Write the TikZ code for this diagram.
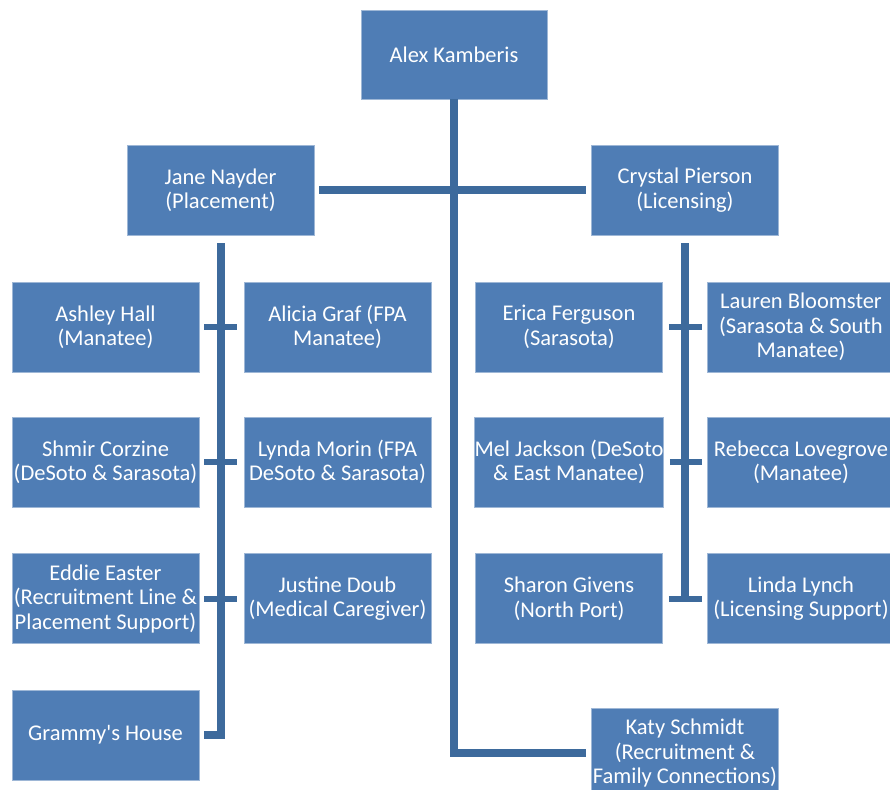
\documentclass[tikz,border=0pt]{standalone}
\usepackage{fontspec}
\setmainfont{Carlito}[Ligatures=TeXOff]
\definecolor{boxblue}{HTML}{4F7DB5}
\definecolor{lineblue}{HTML}{3D6A9C}
\begin{document}
\begin{tikzpicture}[x=1pt,y=-1pt,
  person/.style={fill=boxblue, draw=boxblue!55!white, line width=0.6pt,
    minimum width=187pt, minimum height=90pt, inner sep=0pt, text=white,
    align=center, font=\fontsize{22.5}{24.5}\selectfont},
  link/.style={draw=lineblue, line width=8pt, line join=miter},
  bar/.style={draw=lineblue, line width=6pt}]
\useasboundingbox (0,0) rectangle (890,789);
\fill[white] (0,0) rectangle (890,789);

\node[person, minimum width=186pt, minimum height=89pt] (alex) at (454,54.5) {Alex Kamberis};
\node[person] (jane) at (220.5,190) {Jane Nayder\\(Placement)};
\node[person] (crystal) at (685,190) {Crystal Pierson\\(Licensing)};

\node[person] (ashley) at (105.5,327) {Ashley Hall\\(Manatee)};
\node[person] (alicia) at (337.5,327) {Alicia Graf (FPA\\Manatee)};
\node[person] (shmir) at (105.5,462) {Shmir Corzine\\(DeSoto \& Sarasota)};
\node[person] (lynda) at (337.5,462) {Lynda Morin (FPA\\DeSoto \& Sarasota)};
\node[person] (eddie) at (105.5,598.5) {Eddie Easter\\(Recruitment Line \&\\Placement Support)};
\node[person] (justine) at (337.5,598.5) {Justine Doub\\(Medical Caregiver)};
\node[person] (grammy) at (105.5,735) {Grammy's House};

\node[person] (erica) at (569,327) {Erica Ferguson\\(Sarasota)};
\node[person] (lauren) at (801,327) {Lauren Bloomster\\(Sarasota \& South\\Manatee)};
\node[person] (mel) at (569,462) {Mel Jackson (DeSoto\\\& East Manatee)};
\node[person] (rebecca) at (801,462) {Rebecca Lovegrove\\(Manatee)};
\node[person] (sharon) at (569,598.5) {Sharon Givens\\(North Port)};
\node[person] (linda) at (801,598.5) {Linda Lynch\\(Licensing Support)};

\node[person] (katy) at (685,753) {Katy Schmidt\\(Recruitment \&\\Family Connections)};

% main spine
\draw[link] (alex.south) |- ([xshift=-5pt]katy.west);
% managers
\draw[link] ([xshift=5pt]jane.east) -- ([xshift=-5pt]crystal.west);
% placement branch
\draw[link] ([yshift=-8pt]jane.south) |- ([xshift=5pt]grammy.east);
\draw[bar] ([xshift=5pt]ashley.east) -- ([xshift=-7pt]alicia.west);
\draw[bar] ([xshift=5pt]shmir.east) -- ([xshift=-7pt]lynda.west);
\draw[bar] ([xshift=5pt]eddie.east) -- ([xshift=-7pt]justine.west);
% licensing branch
\draw[link] ([yshift=-8pt]crystal.south) -- (crystal.south |- sharon.east);
\draw[bar] ([xshift=6pt]erica.east) -- ([xshift=-5pt]lauren.west);
\draw[bar] ([xshift=6pt]mel.east) -- ([xshift=-5pt]rebecca.west);
\draw[bar] ([xshift=6pt]sharon.east) -- ([xshift=-5pt]linda.west);
\end{tikzpicture}
\end{document}
